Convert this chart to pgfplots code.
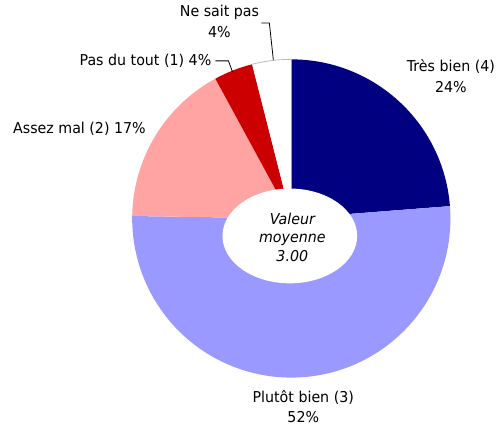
\documentclass[border=0pt]{standalone}
\usepackage{fontspec}
\setmainfont{DejaVu Sans}[FakeStretch=0.95]
\usepackage{pgfplots}
\pgfplotsset{compat=1.18}
\definecolor{cNavy}{HTML}{000080}
\definecolor{cLav}{HTML}{9999FF}
\definecolor{cPink}{HTML}{FFA3A3}
\definecolor{cRed}{HTML}{CC0000}
\definecolor{cGray}{HTML}{BBBBBB}
% #1 cumulative start (%), #2 share (%), #3 colour ; total of labels = 101
\newcommand{\pieslice}[3]{%
  \fill[#3] (axis cs:292,209) -- ++({90-(#1)*3.564356}:159.5bp)
    arc[start angle={90-(#1)*3.564356}, end angle={90-(#1+#2)*3.564356}, radius=159.5bp] -- cycle;}
\begin{document}
\begin{tikzpicture}
\fontsize{15bp}{18bp}\selectfont
\begin{axis}[x=1bp, y=1bp, xmin=0, xmax=500, ymin=0, ymax=428,
  axis lines=none, scale only axis, clip=false]
\path (axis cs:0,0) rectangle (axis cs:500,428);
\addplot[draw=none] coordinates {(0,0) (500,428)};
% slices: Tres bien 24, Plutot bien 52, Assez mal 17, Pas du tout 4, Ne sait pas 4
\pieslice{0}{24}{cNavy}
\pieslice{24}{52}{cLav}
\pieslice{76}{17}{cPink}
\pieslice{93}{4}{cRed}
\pieslice{97}{4}{white}
\draw[cGray, line width=0.8bp] (axis cs:292,209) ++({90-97*3.564356}:159.5bp)
    arc[start angle={90-97*3.564356}, end angle={90-101*3.564356}, radius=159.5bp];
\fill[white] (axis cs:290.5,191.5) ellipse [x radius=67.5bp, y radius=47.5bp];
% centre text
\node[anchor=base, font=\itshape] at (axis cs:293,203) {Valeur};
\node[anchor=base, font=\itshape] at (axis cs:293,185) {moyenne};
\node[anchor=base, font=\itshape] at (axis cs:293,166) {3.00};
% labels
\node[anchor=base] at (axis cs:452,356) {Très bien (4)};
\node[anchor=base] at (axis cs:452,335) {24\%};
\node[anchor=base] at (axis cs:304,25) {Plutôt bien (3)};
\node[anchor=base] at (axis cs:304,4) {52\%};
\node[anchor=base west, inner sep=0pt] at (axis cs:13,294) {Assez mal (2) 17\%};
\node[anchor=base east, inner sep=0pt] at (axis cs:212,362) {Pas du tout (1) 4\%};
\node[anchor=base] at (axis cs:220,411) {Ne sait pas};
\node[anchor=base] at (axis cs:220,390) {4\%};
% leader lines
\draw[black, line width=0.8bp] (axis cs:216,367) -- (axis cs:229,367) -- (axis cs:233,356);
\draw[black, line width=0.8bp] (axis cs:262,405) -- (axis cs:270,405) -- (axis cs:274,368);
\end{axis}
\end{tikzpicture}
\end{document}
